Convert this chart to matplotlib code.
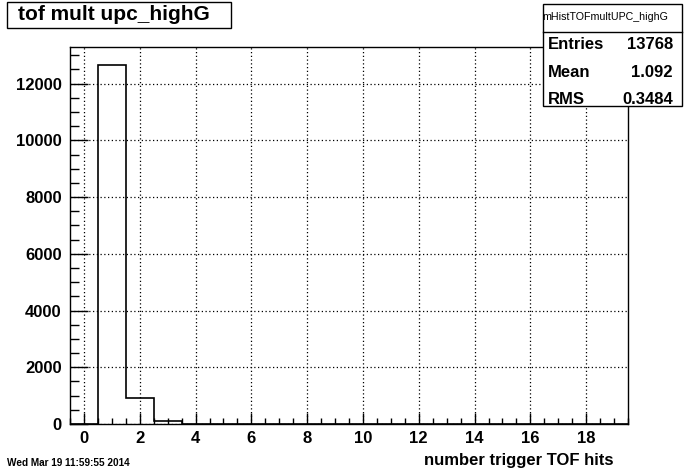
import matplotlib
matplotlib.use('Agg')
import matplotlib.pyplot as plt
import numpy as np
from matplotlib.ticker import MultipleLocator

plt.rcParams['font.family'] = ['Liberation Sans', 'DejaVu Sans']

# histogram content (bins centred on integers 0..19)
bin_edges = np.arange(-0.5, 20.0, 1.0)
counts = [0, 12660, 910, 100, 0, 0, 0, 0, 0, 0,
          0, 0, 0, 0, 0, 0, 0, 0, 0, 0]

hist_name = 'mHistTOFmultUPC_highG'
title = 'tof mult upc_highG'
xlabel = 'number trigger TOF hits'
stat_names = ['Entries', 'Mean', 'RMS']
stat_values = ['13768', '1.092', '0.3484']
date_text = 'Wed Mar 19 11:59:55 2014'

W, H = 696, 472
fig = plt.figure(figsize=(W / 100, H / 100), dpi=100)
ax = fig.add_axes([70 / W, 1 - 424 / H, (628 - 70) / W, (424 - 47) / H])

ax.stairs(counts, bin_edges, color='black', linewidth=1.2)

ax.set_xlim(-0.5, 19.5)
ax.set_ylim(0, max(counts) * 1.05)

ax.xaxis.set_major_locator(MultipleLocator(2))
ax.xaxis.set_minor_locator(MultipleLocator(0.5))
ax.yaxis.set_major_locator(MultipleLocator(2000))
ax.yaxis.set_minor_locator(MultipleLocator(500))

ax.tick_params(axis='both', which='both', direction='in', top=False, right=False)
ax.tick_params(axis='y', which='major', length=13, width=1, pad=6)
ax.tick_params(axis='y', which='minor', length=6.5, width=1)
ax.tick_params(axis='x', which='major', length=8, width=1, pad=5)
ax.tick_params(axis='x', which='minor', length=4, width=1)
for lab in ax.get_xticklabels() + ax.get_yticklabels():
    lab.set_fontweight('bold')
    lab.set_fontsize(12)

ax.grid(True, which='major', color='black', linestyle=(0, (1, 2)), linewidth=0.9)
for s in ax.spines.values():
    s.set_linewidth(1)

# x axis title, right aligned under the axis
fig.text(613 / W, 1 - 461 / H, xlabel, fontsize=12, fontweight='bold', ha='right', va='center')

# title box
fig.text(18 / W, 1 - 15 / H, title, fontsize=15, fontweight='bold', va='center', ha='left')
fig.patches.append(plt.Rectangle((7 / W, 1 - 28 / H), (231 - 7) / W, 26 / H,
                                 transform=fig.transFigure, fill=False,
                                 edgecolor='black', linewidth=1))

# stats box
sx0, sx1, sy0, sy1, ysep = 543, 682, 4, 106, 32
fig.patches.append(plt.Rectangle((sx0 / W, 1 - sy1 / H), (sx1 - sx0) / W, (sy1 - sy0) / H,
                                 transform=fig.transFigure, facecolor='white',
                                 edgecolor='black', linewidth=1, zorder=5))
fig.lines.append(plt.Line2D([sx0 / W, sx1 / W], [1 - ysep / H, 1 - ysep / H],
                            transform=fig.transFigure, color='black', linewidth=1, zorder=6))
fig.text(605 / W, 1 - 17 / H, hist_name, fontsize=7.7, ha='center', va='center', zorder=7)
for i, (n, v) in enumerate(zip(stat_names, stat_values)):
    yy = 1 - (49 + i * 27.7) / H
    fig.text(548 / W, yy, n, fontsize=12, fontweight='bold', ha='left', va='baseline', zorder=7)
    fig.text(673 / W, yy, v, fontsize=12, fontweight='bold', ha='right', va='baseline', zorder=7)

fig.text(7 / W, 1 - 463 / H, date_text, fontsize=7.2, fontweight='bold', ha='left', va='center')

fig.savefig('out.png', dpi=100)
